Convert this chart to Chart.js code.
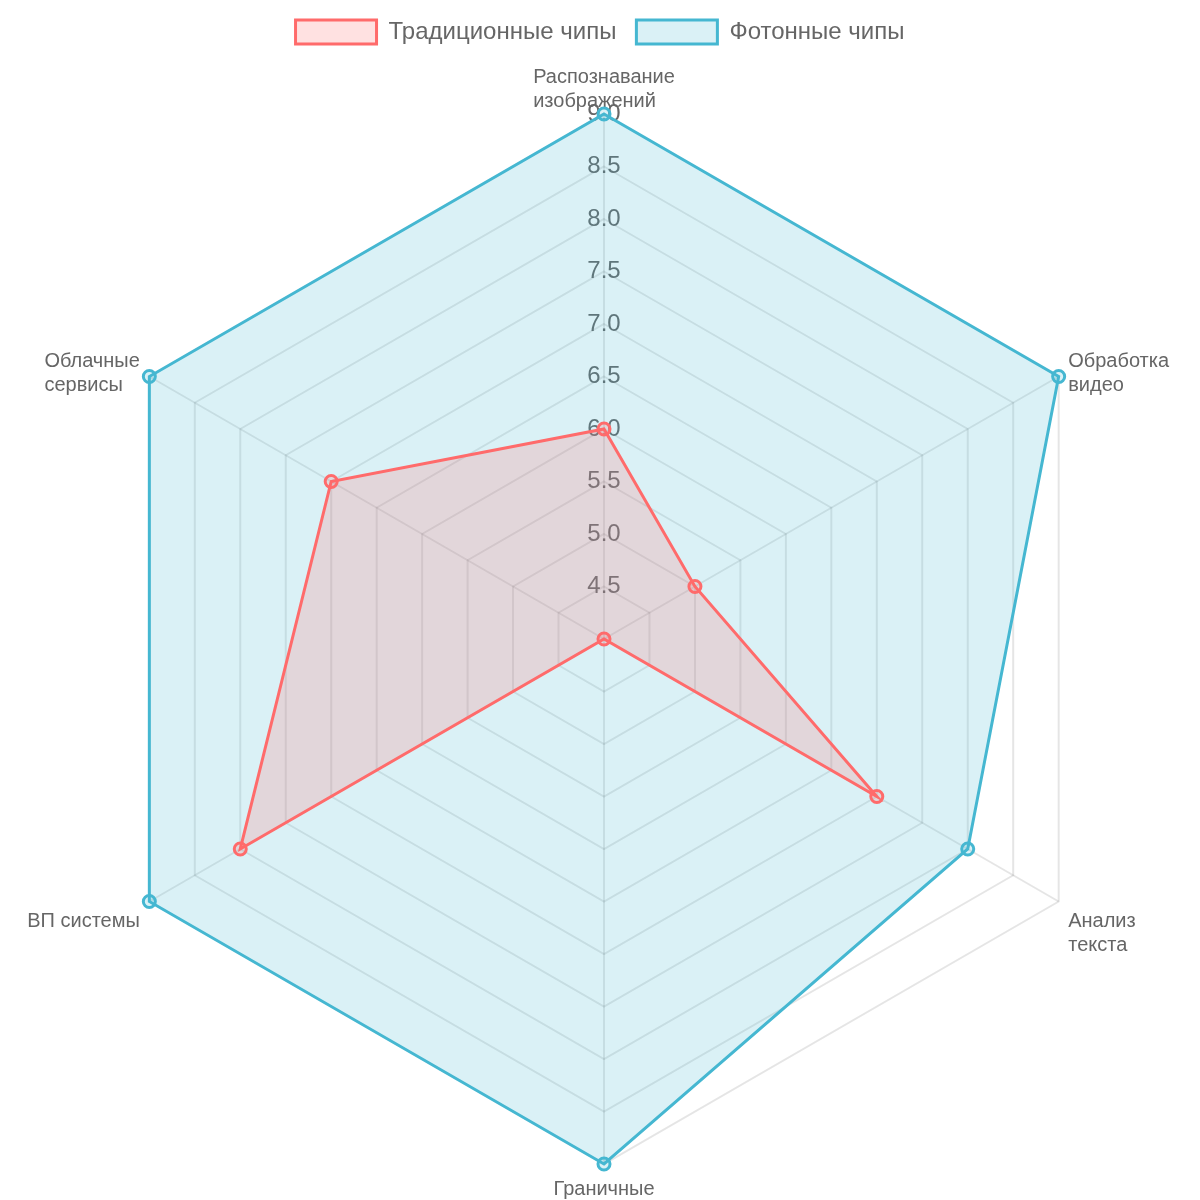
<!DOCTYPE html>
<html>
<head>
<meta charset="utf-8">
<script src="https://cdn.jsdelivr.net/npm/chart.js@4.4.0/dist/chart.umd.min.js"></script>
<style>
html,body{margin:0;padding:0;background:#fff;}
#wrap{width:1200px;height:1200px;}
</style>
</head>
<body>
<div id="wrap"><canvas id="c"></canvas></div>
<script>
const categories = [
  ["Распознавание", "изображений"],
  ["Обработка", "видео"],
  ["Анализ", "текста"],
  "Граничные",
  "ВП системы",
  ["Облачные", "сервисы"]
];
const traditionalChips = [6.0, 5.0, 7.0, 4.0, 8.0, 7.0];
const photonicChips = [9.0, 9.0, 8.0, 9.0, 9.0, 9.0];
const seriesNames = ["Традиционные чипы", "Фотонные чипы"];

const FONT_FAMILY = "'Liberation Sans', Arial, sans-serif";
const LABEL_SIZE = 20;
Chart.defaults.font.family = FONT_FAMILY;
Chart.defaults.color = '#666';

// draws point labels (lines left-aligned within each label block),
// positioned from the radial scale's own point positions
const leftLabels = {
  id: 'leftLabels',
  beforeDatasetsDraw(chart) {
    const scale = chart.scales.r;
    const ctx = chart.ctx;
    const lh = LABEL_SIZE * 1.2;
    ctx.save();
    ctx.font = LABEL_SIZE + 'px ' + FONT_FAMILY;
    ctx.fillStyle = '#666';
    ctx.textAlign = 'left';
    ctx.textBaseline = 'middle';
    chart.data.labels.forEach((lab, i) => {
      const lines = Array.isArray(lab) ? lab : [lab];
      const h = lines.length * lh;
      const w = Math.max(...lines.map(l => ctx.measureText(l).width));
      let deg = Math.round(scale.getIndexAngle(i) * 180 / Math.PI) % 360;
      if (deg < 0) deg += 360;
      const gap = deg === 0 ? 3 : 11;
      const p = scale.getPointPosition(i, scale.drawingArea + gap);
      let left;
      if (deg === 0 || deg === 180) left = p.x - w / 2;
      else if (deg < 180) left = p.x;
      else left = p.x - w;
      let top;
      if (deg === 0) top = p.y - h;
      else if (deg === 180 || (deg > 90 && deg < 270)) top = p.y;
      else top = p.y - h / 2;
      lines.forEach((ln, j) => {
        ctx.fillText(ln, left, top + 2 + lh / 2 + j * lh);
      });
    });
    ctx.restore();
  }
};

new Chart(document.getElementById('c'), {
  type: 'radar',
  data: {
    labels: categories,
    datasets: [
      {
        label: seriesNames[0],
        data: traditionalChips,
        borderColor: 'rgb(255,107,107)',
        backgroundColor: 'rgba(255,107,107,0.2)',
        pointBackgroundColor: 'rgba(255,107,107,0.2)',
        pointBorderColor: 'rgb(255,107,107)',
        borderWidth: 3,
        pointRadius: 6,
        pointBorderWidth: 3
      },
      {
        label: seriesNames[1],
        data: photonicChips,
        borderColor: 'rgb(69,183,209)',
        backgroundColor: 'rgba(69,183,209,0.2)',
        pointBackgroundColor: 'rgba(69,183,209,0.2)',
        pointBorderColor: 'rgb(69,183,209)',
        borderWidth: 3,
        pointRadius: 6,
        pointBorderWidth: 3
      }
    ]
  },
  options: {
    responsive: true,
    maintainAspectRatio: false,
    animation: false,
    plugins: {
      legend: {
        position: 'top',
        labels: {
          font: { size: 24 },
          color: '#666',
          boxWidth: 81,
          boxHeight: 24,
          padding: 20
        }
      }
    },
    scales: {
      r: {
        min: 4,
        max: 9,
        ticks: {
          stepSize: 0.5,
          font: { size: 24 },
          color: '#666',
          showLabelBackdrop: false,
          callback: v => v.toFixed(1)
        },
        pointLabels: {
          font: { size: LABEL_SIZE },
          color: 'rgba(0,0,0,0)',
          padding: ctx => (ctx.index === 0 ? -14 : (ctx.index === 3 ? -15 : -3))
        },
        grid: { color: 'rgba(0,0,0,0.1)', lineWidth: 2 },
        angleLines: { color: 'rgba(0,0,0,0.1)', lineWidth: 2 }
      }
    }
  },
  plugins: [leftLabels]
});
</script>
</body>
</html>
